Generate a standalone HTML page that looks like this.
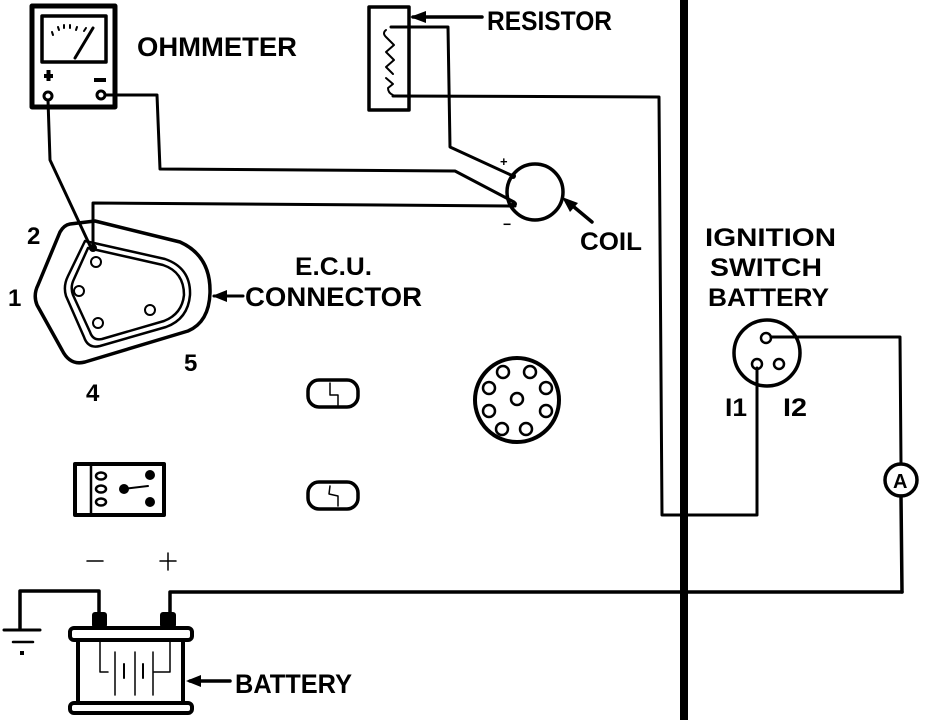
<!DOCTYPE html>
<html><head><meta charset="utf-8"><style>
html,body{margin:0;padding:0;background:#fff}
svg{display:block}
text{font-family:"Liberation Sans",sans-serif;font-weight:bold;fill:#000}
</style></head><body>
<svg width="944" height="720" viewBox="0 0 944 720" xmlns="http://www.w3.org/2000/svg">
<rect width="944" height="720" fill="#fff"/>
<g fill="none" stroke="#000" stroke-width="3" stroke-linejoin="round" stroke-linecap="round">
<rect x="32" y="6" width="83" height="101" stroke-width="5"/>
<rect x="42" y="16" width="64" height="46" stroke-width="3.5"/>
<line x1="75" y1="58" x2="93" y2="28" stroke-width="3"/>
<path d="M52 32l1 3M58 27l1 3M64 25l0 3M70 25l0 3M77 27l-1 3M86 28l-2 3" stroke-width="2"/>
<circle cx="48" cy="96" r="4"/>
<circle cx="101" cy="95" r="4"/>
<polyline points="105,95 157,95 160,169 455,171 514,202" stroke-width="3"/>
<polyline points="48,100 50,160 92,250" stroke-width="3"/>
<polyline points="93,248 93,203 515,206" stroke-width="3"/>
<path d="M70,224 L95,221 L180,242 Q211,256 210,293 Q209,322 188,331 L85,362 Q70,366 62,350 L37,305 Q33,295 38,285 L60,232 Q64,225 70,224 Z" stroke-width="3.5"/>
<path d="M85,241 L165,259 Q191,268 190,295 Q188,319 166,327 L100,346 Q88,349 84,337 L66,296 Q63,286 68,276 Z" stroke-width="2.5"/>
<path d="M88,248 L163,265 Q184,272 184,295 Q182,314 164,321 L102,339 Q93,341 90,332 L73,295 Q70,287 74,279 Z" stroke-width="2.5"/>
<circle cx="96" cy="262" r="5" stroke-width="2"/>
<circle cx="79" cy="291" r="5" stroke-width="2"/>
<circle cx="98" cy="323" r="5" stroke-width="2"/>
<circle cx="150" cy="310" r="5" stroke-width="2"/>
<line x1="243" y1="296" x2="214" y2="296"/>
<rect x="369" y="7" width="40" height="103" stroke-width="3.5"/>
<path d="M386,30 Q382,33 386,37 L394,45 L386,52 L394,60 L386,67 L393,74 M386,78 L393,84 L388,88 Q388,93 393,95" stroke-width="2"/>
<polyline points="391,27 448,27 450,147 513,176" stroke-width="3"/>
<polyline points="393,96 659,97 662,515 757,515 757,368" stroke-width="3"/>
<line x1="482" y1="17" x2="413" y2="17" stroke-width="3.5"/>
<circle cx="535" cy="192" r="28" stroke-width="3.5"/>
<line x1="592" y1="222" x2="568" y2="202" stroke-width="3.5"/>
<circle cx="767" cy="353" r="33" stroke-width="3.5"/>
<circle cx="766" cy="338" r="5" stroke-width="2.5"/>
<circle cx="757" cy="364" r="5" stroke-width="2.5"/>
<circle cx="779" cy="364" r="5" stroke-width="2.5"/>
<polyline points="771,337 900,337 901,464" stroke-width="3"/>
<circle cx="901" cy="480" r="16" stroke-width="3.5"/>
<polyline points="901,496 902,592" stroke-width="3.5"/>
<rect x="308" y="380" width="50" height="27" rx="11" stroke-width="3.5"/>
<path d="M330,383 L330,395 L338,395 L338,405" stroke-width="1.5"/>
<rect x="308" y="482" width="50" height="27" rx="11" stroke-width="3.5"/>
<path d="M330,486 L329,494 L338,496 L338,506" stroke-width="1.5"/>
<circle cx="517" cy="400" r="42" stroke-width="4"/>
<g stroke-width="2.5">
<circle cx="503" cy="372" r="6"/><circle cx="530" cy="372" r="6"/>
<circle cx="489" cy="388" r="6"/><circle cx="546" cy="388" r="6"/>
<circle cx="517" cy="399" r="6"/>
<circle cx="489" cy="411" r="6"/><circle cx="546" cy="411" r="6"/>
<circle cx="502" cy="429" r="6"/><circle cx="526" cy="429" r="6"/>
</g>
<rect x="75" y="464" width="89" height="51" stroke-width="4"/>
<line x1="91" y1="464" x2="91" y2="515" stroke-width="2.5"/>
<ellipse cx="101" cy="476" rx="5" ry="3.5" stroke-width="2.5"/>
<ellipse cx="101" cy="489" rx="5" ry="3.5" stroke-width="2.5"/>
<ellipse cx="101" cy="502" rx="5" ry="3.5" stroke-width="2.5"/>
<line x1="123" y1="489" x2="148" y2="486" stroke-width="2"/>
<polyline points="170,615 170,592 902,592" stroke-width="3.5"/>
<polyline points="99,615 99,591 20,591 20,628" stroke-width="3.5"/>
<line x1="4" y1="630" x2="40" y2="630" stroke-width="3"/>
<line x1="13" y1="642" x2="33" y2="642" stroke-width="2.5"/>
<rect x="70" y="628" width="122" height="12" rx="4" stroke-width="4"/>
<rect x="78" y="640" width="105" height="63" stroke-width="4"/>
<rect x="70" y="703" width="122" height="10" rx="4" stroke-width="4"/>
<polyline points="100,640 100,672 108,672" stroke-width="1.5"/>
<polyline points="170,640 170,672 154,672" stroke-width="1.5"/>
<line x1="115" y1="652" x2="115" y2="695" stroke-width="1.5"/>
<line x1="124" y1="664" x2="124" y2="678" stroke-width="2"/>
<line x1="135" y1="652" x2="135" y2="695" stroke-width="1.5"/>
<line x1="143" y1="664" x2="143" y2="678" stroke-width="2"/>
<line x1="153" y1="652" x2="153" y2="695" stroke-width="1.5"/>
<line x1="230" y1="681" x2="190" y2="681" stroke-width="3.5"/>
<line x1="87" y1="561" x2="103" y2="561" stroke-width="1.5"/>
<line x1="160" y1="561" x2="176" y2="561" stroke-width="1.5"/>
<line x1="168" y1="553" x2="168" y2="570" stroke-width="1.5"/>
</g>
<g fill="#000">
<rect x="680" y="0" width="8" height="720"/>
<circle cx="684" cy="592" r="4"/>
<circle cx="124" cy="489" r="5"/>
<circle cx="150" cy="475" r="5"/>
<circle cx="150" cy="502" r="5"/>
<rect x="92" y="612" width="15" height="16" rx="3"/>
<rect x="160" y="612" width="16" height="16" rx="3"/>
<rect x="20" y="651" width="4" height="4"/>
<polygon points="410,17 426,11 426,23"/>
<polygon points="212,296 227,290 227,302"/>
<polygon points="562,197 578,203 570,212"/>
<polygon points="186,681 201,675 201,687"/>
<rect x="44" y="74" width="9" height="4"/><rect x="46.5" y="70" width="4" height="11"/>
<rect x="94" y="78" width="12" height="4"/>
<circle cx="93" cy="248" r="4"/>
<circle cx="513" cy="176" r="3"/>
<circle cx="514" cy="204" r="3"/>
</g>
<text x="137" y="56" font-size="27" textLength="160" lengthAdjust="spacingAndGlyphs">OHMMETER</text>
<text x="487" y="30" font-size="27" textLength="125" lengthAdjust="spacingAndGlyphs">RESISTOR</text>
<text x="580" y="250" font-size="25" textLength="62" lengthAdjust="spacingAndGlyphs">COIL</text>
<text x="295" y="275" font-size="25" textLength="77" lengthAdjust="spacingAndGlyphs">E.C.U.</text>
<text x="245" y="306" font-size="27" textLength="177" lengthAdjust="spacingAndGlyphs">CONNECTOR</text>
<text x="705" y="246" font-size="25" textLength="131" lengthAdjust="spacingAndGlyphs">IGNITION</text>
<text x="710" y="276" font-size="25" textLength="112" lengthAdjust="spacingAndGlyphs">SWITCH</text>
<text x="708" y="306" font-size="25" textLength="121" lengthAdjust="spacingAndGlyphs">BATTERY</text>
<text x="725" y="416" font-size="25" textLength="22" lengthAdjust="spacingAndGlyphs">I1</text>
<text x="783" y="416" font-size="25" textLength="24" lengthAdjust="spacingAndGlyphs">I2</text>
<text x="235" y="693" font-size="27" textLength="117" lengthAdjust="spacingAndGlyphs">BATTERY</text>
<text x="27" y="244" font-size="24">2</text>
<text x="8" y="306" font-size="24">1</text>
<text x="86" y="401" font-size="24">4</text>
<text x="184" y="371" font-size="24">5</text>
<text x="893" y="488" font-size="20">A</text>
<text x="500" y="166" font-size="13">+</text>
<text x="503" y="229" font-size="14">−</text>
</svg>
</body></html>
